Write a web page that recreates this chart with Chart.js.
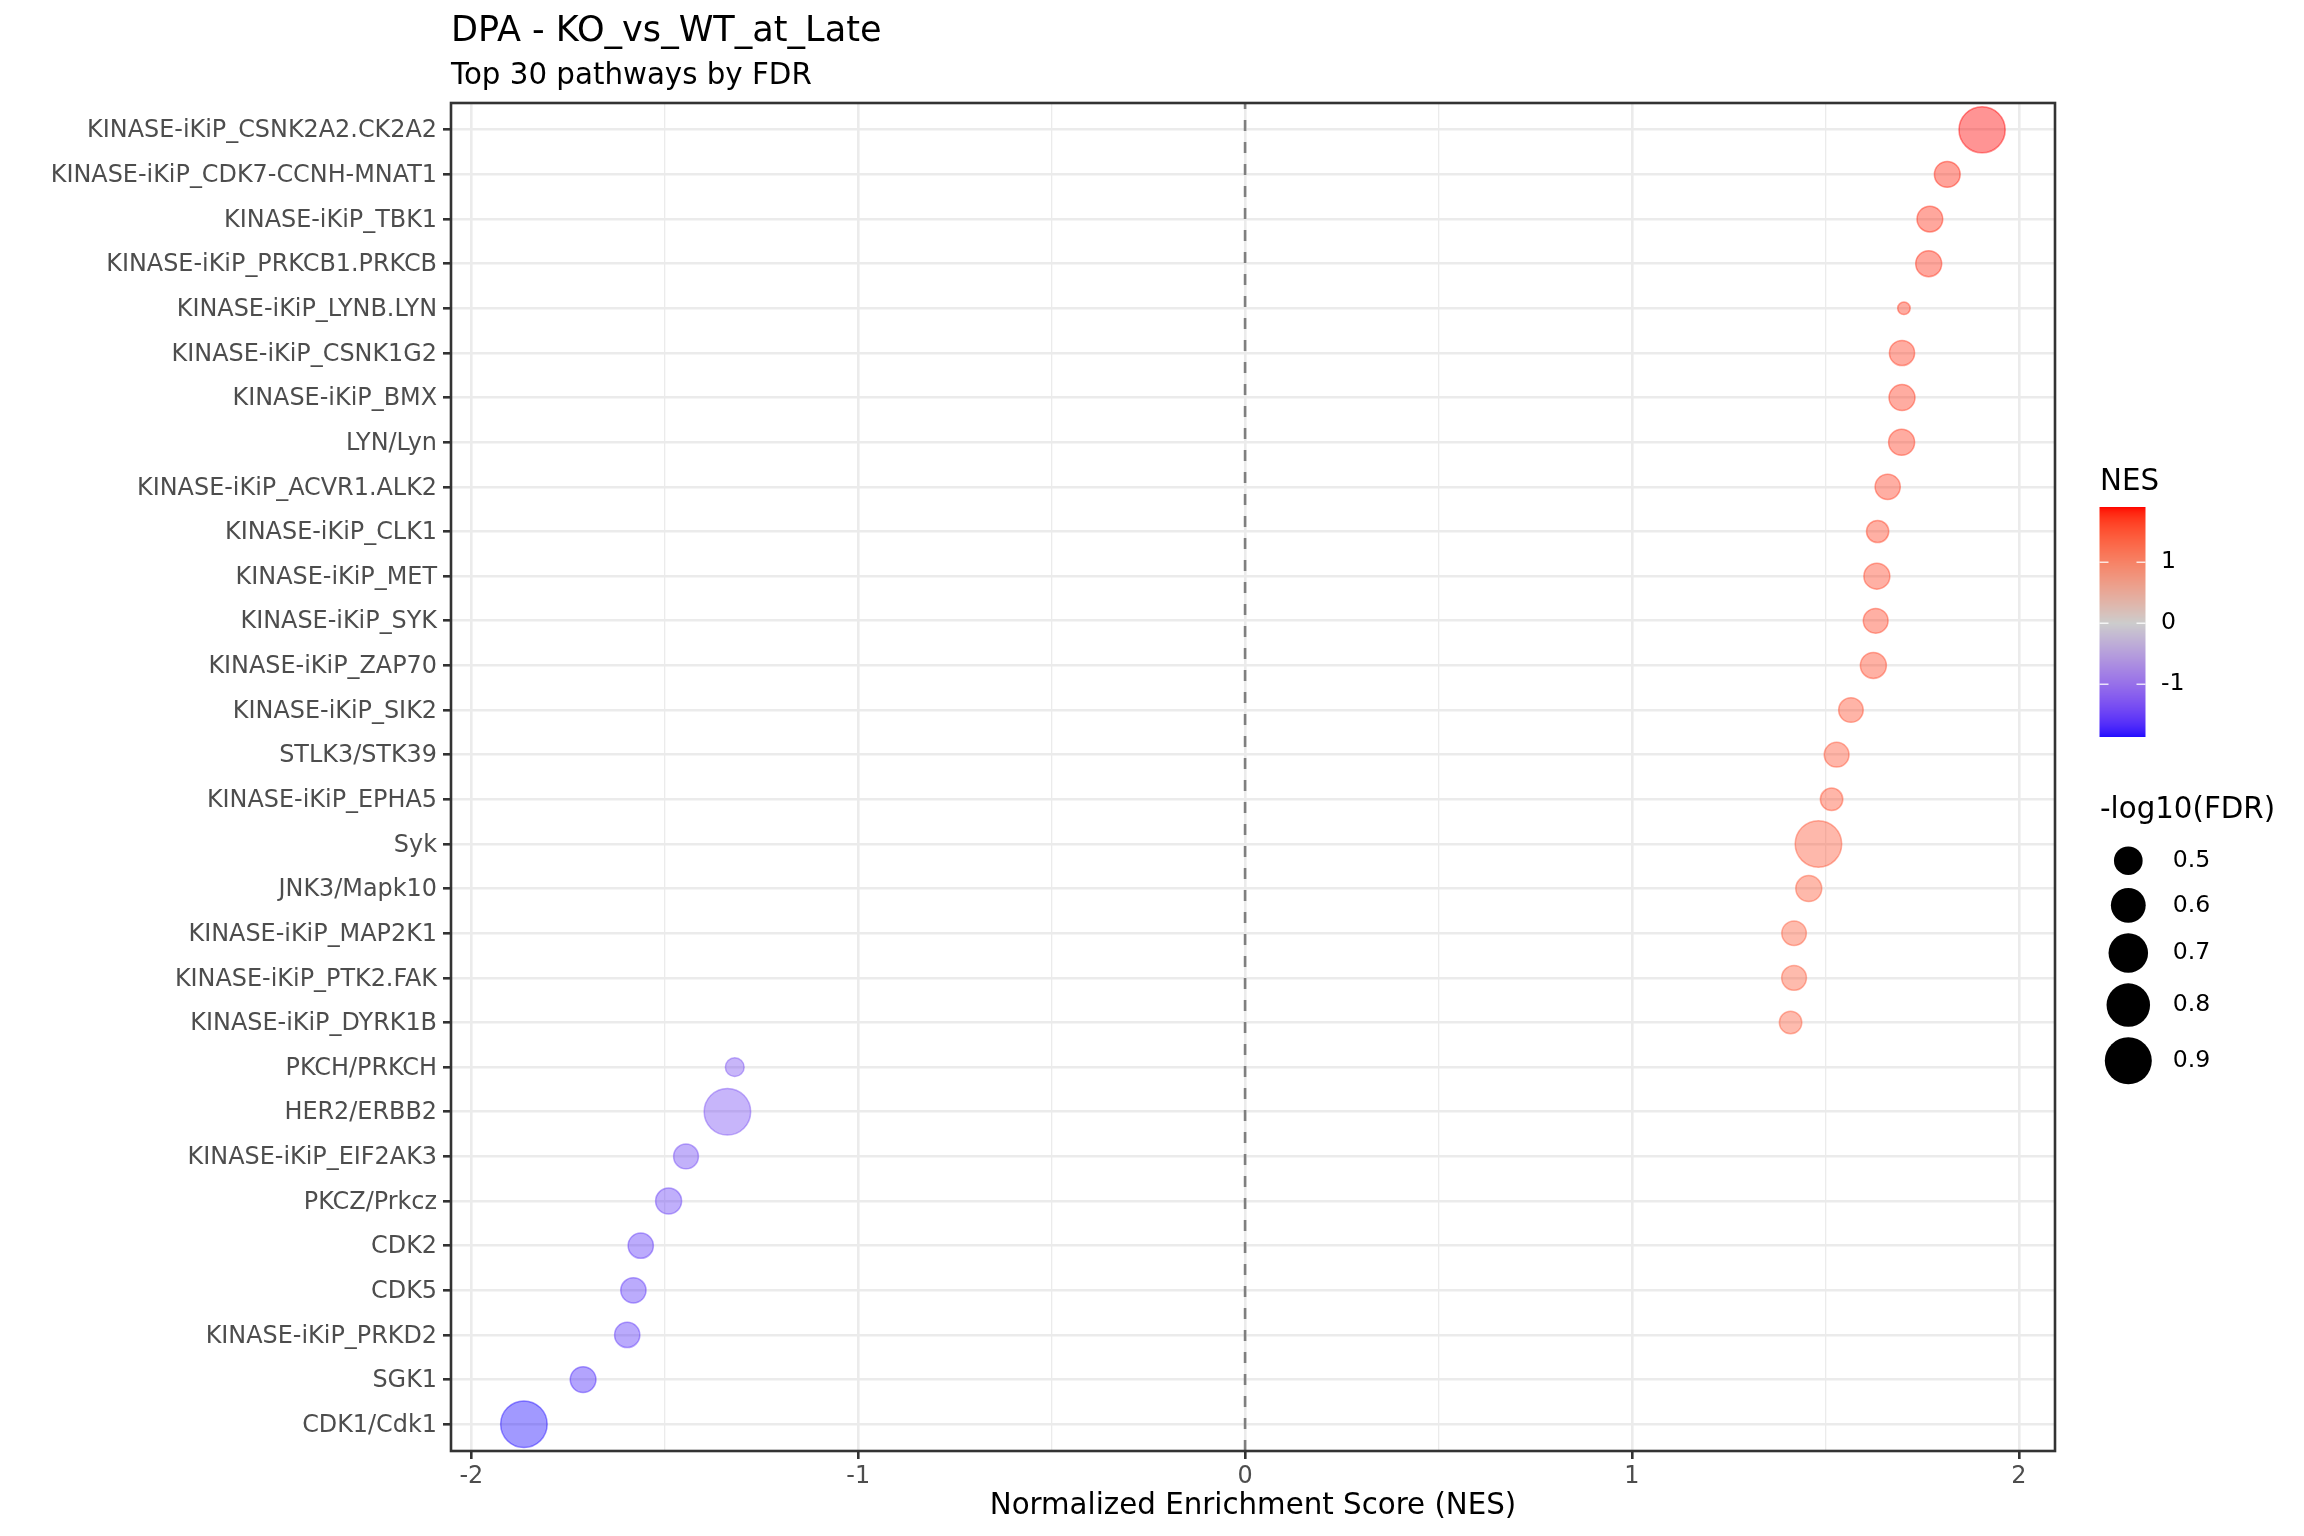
<!DOCTYPE html>
<html>
<head>
<meta charset="utf-8">
<script src="https://cdn.jsdelivr.net/npm/chart.js@4.4.1/dist/chart.umd.min.js"></script>
<style>
  html, body { margin:0; padding:0; background:#fff; }
  #wrap { width:2304px; height:1536px; }
</style>
</head>
<body>
<div id="wrap"><canvas id="chart" width="2304" height="1536"></canvas></div>
<script>
// Vias, de arriba a abajo
const pathways = [
  'KINASE-iKiP_CSNK2A2.CK2A2', 'KINASE-iKiP_CDK7-CCNH-MNAT1', 'KINASE-iKiP_TBK1',
  'KINASE-iKiP_PRKCB1.PRKCB', 'KINASE-iKiP_LYNB.LYN', 'KINASE-iKiP_CSNK1G2',
  'KINASE-iKiP_BMX', 'LYN/Lyn', 'KINASE-iKiP_ACVR1.ALK2', 'KINASE-iKiP_CLK1',
  'KINASE-iKiP_MET', 'KINASE-iKiP_SYK', 'KINASE-iKiP_ZAP70', 'KINASE-iKiP_SIK2',
  'STLK3/STK39', 'KINASE-iKiP_EPHA5', 'Syk', 'JNK3/Mapk10', 'KINASE-iKiP_MAP2K1',
  'KINASE-iKiP_PTK2.FAK', 'KINASE-iKiP_DYRK1B', 'PKCH/PRKCH', 'HER2/ERBB2',
  'KINASE-iKiP_EIF2AK3', 'PKCZ/Prkcz', 'CDK2', 'CDK5', 'KINASE-iKiP_PRKD2', 'SGK1', 'CDK1/Cdk1'
];
const nes = [
  1.905, 1.815, 1.770, 1.767, 1.703, 1.698, 1.698, 1.697, 1.661, 1.635,
  1.633, 1.630, 1.624, 1.566, 1.529, 1.516, 1.482, 1.457, 1.419, 1.419,
  1.410, -1.319, -1.338, -1.445, -1.490, -1.562, -1.581, -1.597, -1.711, -1.864
];
const negLog10FDR = [
  0.920, 0.482, 0.482, 0.485, 0.402, 0.475, 0.485, 0.485, 0.476, 0.445,
  0.485, 0.471, 0.485, 0.468, 0.471, 0.447, 0.930, 0.485, 0.468, 0.471,
  0.447, 0.420, 0.930, 0.471, 0.485, 0.476, 0.476, 0.476, 0.482, 0.930
];
const xTicks = [-2, -1.5, -1, -0.5, 0, 0.5, 1, 1.5, 2];
const nesBreaks = [1, 0, -1];
const fdrBreaks = [0.5, 0.6, 0.7, 0.8, 0.9];

const FONT = "'DejaVu Sans', sans-serif";
const AXIS_TEXT = 23.9, LEG_TEXT = 23.6, SUB = 29.3, MAIN = 35.1;

// Escala de color (gradiente en Lab, como ggplot)
function hexToRgb(h){ return [1,3,5].map(i => parseInt(h.slice(i, i+2), 16)); }
function rgbToLab([r,g,b]){
  const lin = c => { c /= 255; return c <= 0.04045 ? c/12.92 : Math.pow((c+0.055)/1.055, 2.4); };
  const R = lin(r), G = lin(g), B = lin(b);
  const X = (R*0.4124564 + G*0.3575761 + B*0.1804375) / 0.95047;
  const Y = (R*0.2126729 + G*0.7151522 + B*0.0721750);
  const Z = (R*0.0193339 + G*0.1191920 + B*0.9503041) / 1.08883;
  const f = t => t > 0.008856 ? Math.cbrt(t) : 7.787*t + 16/116;
  const fx = f(X), fy = f(Y), fz = f(Z);
  return [116*fy - 16, 500*(fx - fy), 200*(fy - fz)];
}
function labToRgb([L,a,b]){
  const fy = (L+16)/116, fx = fy + a/500, fz = fy - b/200;
  const inv = t => t*t*t > 0.008856 ? t*t*t : (t - 16/116)/7.787;
  const X = inv(fx)*0.95047, Y = inv(fy), Z = inv(fz)*1.08883;
  const R =  X*3.2404542 - Y*1.5371385 - Z*0.4985314;
  const G = -X*0.9692660 + Y*1.8760108 + Z*0.0415560;
  const B =  X*0.0556434 - Y*0.2040259 + Z*1.0572252;
  const g = c => { c = c <= 0.0031308 ? 12.92*c : 1.055*Math.pow(c, 1/2.4) - 0.055; return Math.round(Math.min(1, Math.max(0, c))*255); };
  return [g(R), g(G), g(B)];
}
const lowLab = rgbToLab(hexToRgb('#0000FF'));
const midLab = rgbToLab(hexToRgb('#CCCCCC'));
const highLab = rgbToLab(hexToRgb('#FF0000'));
const nesMaxAbs = Math.max(...nes.map(Math.abs));
function nesColor(v, alpha){
  const t = 0.5 + v / nesMaxAbs / 2;
  let a, b, s;
  if (t < 0.5) { a = lowLab; b = midLab; s = t / 0.5; }
  else { a = midLab; b = highLab; s = (t - 0.5) / 0.5; }
  const lab = a.map((c, i) => c + (b[i] - c) * s);
  const [r, g, bl] = labToRgb(lab);
  return `rgba(${r},${g},${bl},${alpha})`;
}

// Escala de tamano (area proporcional, rango 14-48 px de diametro)
const fdrMin = Math.min(...negLog10FDR), fdrMax = Math.max(...negLog10FDR);
function diameter(v){
  const t = Math.max(0, (v - fdrMin) / (fdrMax - fdrMin));
  return 14 + 34 * Math.sqrt(t);
}

// Limites del eje x con expansion del 5%
const nesMin = Math.min(...nes), nesMax = Math.max(...nes);
const xMin = nesMin - 0.05 * (nesMax - nesMin);
const xMax = nesMax + 0.05 * (nesMax - nesMin);

const isMajor = v => Number.isInteger(v);

const decor = {
  id: 'decor',
  beforeDatasetsDraw(chart){
    const {ctx, chartArea: a, scales: {x}} = chart;
    const px = x.getPixelForValue(0);
    ctx.save();
    ctx.strokeStyle = '#7F7F7F';
    ctx.lineWidth = 2.6;
    ctx.setLineDash([11, 11]);
    ctx.beginPath(); ctx.moveTo(px, a.bottom); ctx.lineTo(px, a.top); ctx.stroke();
    ctx.restore();
  },
  afterDraw(chart){
    const {ctx, chartArea: a} = chart;
    ctx.save();
    // borde del panel
    ctx.strokeStyle = '#333333';
    ctx.lineWidth = 2.6;
    ctx.strokeRect(a.left, a.top, a.right - a.left, a.bottom - a.top);

    // titulo y subtitulo
    ctx.fillStyle = '#000';
    ctx.textAlign = 'left';
    ctx.textBaseline = 'alphabetic';
    ctx.font = `${MAIN}px ${FONT}`;
    ctx.fillText('DPA - KO_vs_WT_at_Late', a.left, 41);
    ctx.font = `${SUB}px ${FONT}`;
    ctx.fillText('Top 30 pathways by FDR', a.left, 84);

    // leyenda de color
    const lx = 2100;
    ctx.font = `${SUB}px ${FONT}`;
    ctx.fillText('NES', lx, 490);
    const barL = 2099.5, barW = 46, barT = 507, barB = 737;
    const unit = (barB - barT) / (nesMax - nesMin);
    for (let y = barT; y < barB; y++) {
      const v = nesMax - (y + 0.5 - barT) / unit;
      ctx.fillStyle = nesColor(v, 1);
      ctx.fillRect(barL, y, barW, 1);
    }
    ctx.strokeStyle = 'rgba(255,255,255,0.8)';
    ctx.lineWidth = 1.5;
    ctx.font = `${LEG_TEXT}px ${FONT}`;
    ctx.textBaseline = 'middle';
    nesBreaks.forEach(b => {
      const y = barT + (nesMax - b) * unit;
      ctx.beginPath();
      ctx.moveTo(barL, y); ctx.lineTo(barL + 9, y);
      ctx.moveTo(barL + barW - 9, y); ctx.lineTo(barL + barW, y);
      ctx.stroke();
      ctx.fillStyle = '#000';
      ctx.fillText(String(b), 2161, y);
    });

    // leyenda de tamano
    ctx.textBaseline = 'alphabetic';
    ctx.font = `${SUB}px ${FONT}`;
    ctx.fillText('-log10(FDR)', lx, 818);
    ctx.font = `${LEG_TEXT}px ${FONT}`;
    ctx.textBaseline = 'middle';
    let cy = 860.7, prevH = null;
    fdrBreaks.forEach(b => {
      const d = diameter(b);
      const h = Math.max(44, d + 10.5);
      if (prevH !== null) cy += (prevH + h) / 2;
      prevH = h;
      ctx.fillStyle = '#000';
      ctx.beginPath(); ctx.arc(2128.3, cy, d / 2, 0, Math.PI * 2); ctx.fill();
      ctx.fillText(b.toFixed(1), 2172.7, cy);
    });
    ctx.restore();
  }
};

new Chart(document.getElementById('chart'), {
  type: 'bubble',
  data: {
    datasets: [{
      data: pathways.map((p, i) => ({x: nes[i], y: i, r: diameter(negLog10FDR[i]) / 2 - 0.75})),
      backgroundColor: nes.map(v => nesColor(v, 0.42)),
      borderColor: nes.map(v => nesColor(v, 0.45)),
      borderWidth: 1.5,
      hoverRadius: 0
    }]
  },
  options: {
    responsive: false,
    devicePixelRatio: 1,
    animation: false,
    layout: { padding: { left: 0, top: 103, right: 249, bottom: 0 } },
    plugins: { legend: { display: false }, tooltip: { enabled: false } },
    scales: {
      x: {
        type: 'linear', min: xMin, max: xMax,
        afterBuildTicks: s => { s.ticks = xTicks.map(v => ({value: v})); },
        afterFit: s => { s.height = 85; },
        border: { display: false },
        grid: {
          color: '#EBEBEB',
          lineWidth: c => (c.tick && isMajor(c.tick.value)) ? 2.6 : 1.3,
          tickLength: 8,
          tickWidth: 2.6,
          tickColor: c => (c.tick && isMajor(c.tick.value)) ? '#333333' : 'rgba(0,0,0,0)'
        },
        ticks: {
          callback: v => isMajor(v) ? String(v) : '',
          color: '#4D4D4D', font: { family: FONT, size: AXIS_TEXT },
          padding: 3, maxRotation: 0, autoSkip: false
        },
        title: {
          display: true, text: 'Normalized Enrichment Score (NES)',
          color: '#000', font: { family: FONT, size: SUB },
          padding: { top: 0, bottom: 12 }
        }
      },
      y: {
        type: 'linear', min: -0.6, max: pathways.length - 0.4, reverse: true,
        afterBuildTicks: s => { s.ticks = pathways.map((p, i) => ({value: i})); },
        afterFit: s => { s.width = 451; },
        border: { display: false },
        grid: {
          color: '#EBEBEB', lineWidth: 2.6,
          tickLength: 8, tickWidth: 2.6, tickColor: '#333333'
        },
        ticks: {
          callback: v => pathways[v],
          color: '#4D4D4D', font: { family: FONT, size: AXIS_TEXT },
          padding: 6, autoSkip: false, labelOffset: 1.5
        }
      }
    }
  },
  plugins: [decor]
});
</script>
</body>
</html>
